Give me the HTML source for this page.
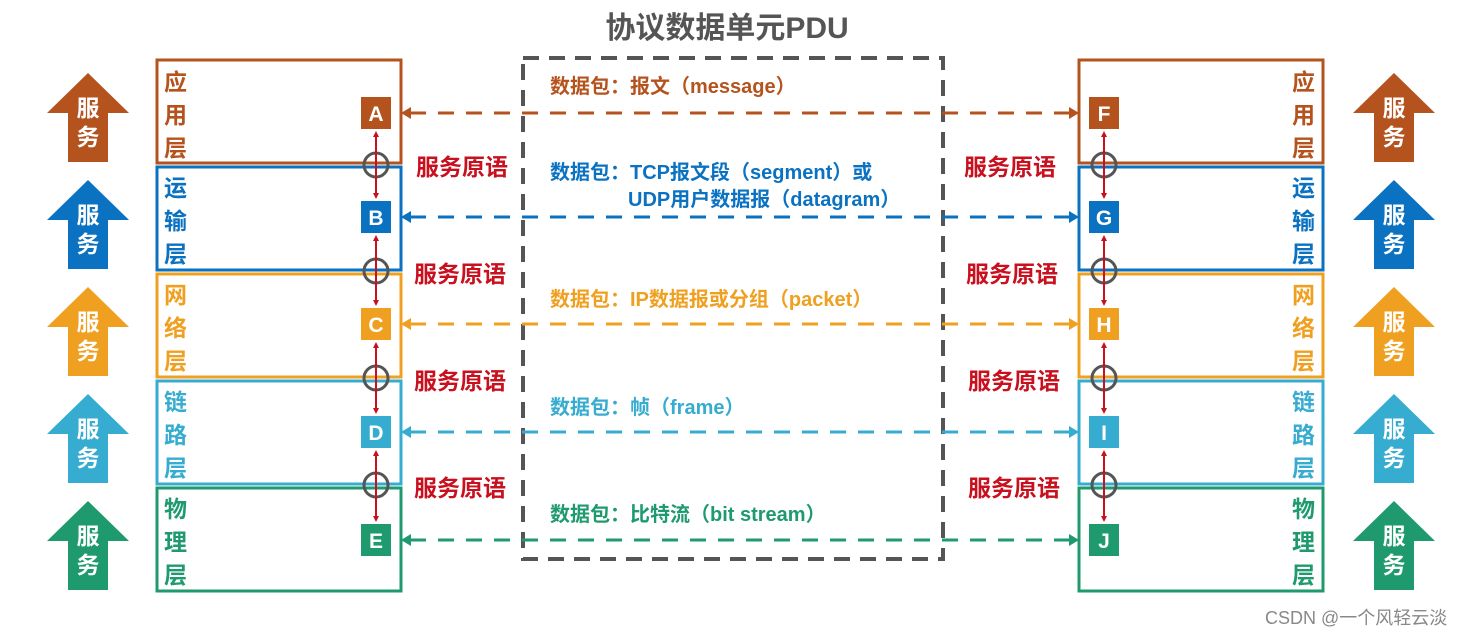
<!DOCTYPE html>
<html><head><meta charset="utf-8"><style>
body{margin:0;background:#fff;}
svg{display:block;font-family:"Liberation Sans","Noto Sans CJK SC",sans-serif;font-weight:bold;}
</style></head><body>
<svg width="1472" height="636" viewBox="0 0 1472 636" xmlns="http://www.w3.org/2000/svg">
<defs>
<marker id="mr" markerWidth="6" markerHeight="6" refX="3" refY="3" orient="auto-start-reverse" markerUnits="userSpaceOnUse"><path d="M0,0 L6,3 L0,6 z" fill="#c8101e"/></marker>
</defs>
<text x="727" y="38" text-anchor="middle" font-size="30" fill="#555">协议数据单元PDU</text>
<rect x="523" y="58" width="420" height="501" fill="none" stroke="#555" stroke-width="4" stroke-dasharray="16,10"/>

<g font-size="23">
<rect x="157" y="60" width="244" height="103" fill="none" stroke="#b5531e" stroke-width="3"/>
<rect x="1079" y="60" width="244" height="103" fill="none" stroke="#b5531e" stroke-width="3"/>
<text x="164" y="90" fill="#b5531e">应</text><text x="164" y="123" fill="#b5531e">用</text><text x="164" y="156" fill="#b5531e">层</text>
<text x="1292" y="90" fill="#b5531e">应</text><text x="1292" y="123" fill="#b5531e">用</text><text x="1292" y="156" fill="#b5531e">层</text>
<rect x="361" y="97" width="30" height="32" fill="#b5531e"/><text x="376" y="121" text-anchor="middle" font-size="21" fill="#fff">A</text>
<rect x="1089" y="97" width="30" height="32" fill="#b5531e"/><text x="1104" y="121" text-anchor="middle" font-size="21" fill="#fff">F</text>
<line x1="410" y1="113" x2="1070" y2="113" stroke="#b5531e" stroke-width="3" stroke-dasharray="16,12"/>
<path d="M401,113 l10,-6 v12z M1079,113 l-10,-6 v12z" fill="#b5531e"/>
<path d="M88,73 L129,113 H108 V162 H68 V113 H47 Z" fill="#b5531e"/>
<path d="M1394,73 L1435,113 H1414 V162 H1374 V113 H1353 Z" fill="#b5531e"/>
<text x="88" y="116" text-anchor="middle" fill="#fff">服</text><text x="88" y="145" text-anchor="middle" fill="#fff">务</text>
<text x="1394" y="116" text-anchor="middle" fill="#fff">服</text><text x="1394" y="145" text-anchor="middle" fill="#fff">务</text>
<text x="550" y="93" font-size="20" fill="#b5531e">数据包：报文（message）</text>

<rect x="157" y="167" width="244" height="103" fill="none" stroke="#0a72c1" stroke-width="3"/>
<rect x="1079" y="167" width="244" height="103" fill="none" stroke="#0a72c1" stroke-width="3"/>
<text x="164" y="196" fill="#0a72c1">运</text><text x="164" y="229" fill="#0a72c1">输</text><text x="164" y="262" fill="#0a72c1">层</text>
<text x="1292" y="196" fill="#0a72c1">运</text><text x="1292" y="229" fill="#0a72c1">输</text><text x="1292" y="262" fill="#0a72c1">层</text>
<rect x="361" y="201" width="30" height="32" fill="#0a72c1"/><text x="376" y="225" text-anchor="middle" font-size="21" fill="#fff">B</text>
<rect x="1089" y="201" width="30" height="32" fill="#0a72c1"/><text x="1104" y="225" text-anchor="middle" font-size="21" fill="#fff">G</text>
<line x1="410" y1="217" x2="1070" y2="217" stroke="#0a72c1" stroke-width="3" stroke-dasharray="16,12"/>
<path d="M401,217 l10,-6 v12z M1079,217 l-10,-6 v12z" fill="#0a72c1"/>
<path d="M88,180 L129,220 H108 V269 H68 V220 H47 Z" fill="#0a72c1"/>
<path d="M1394,180 L1435,220 H1414 V269 H1374 V220 H1353 Z" fill="#0a72c1"/>
<text x="88" y="223" text-anchor="middle" fill="#fff">服</text><text x="88" y="252" text-anchor="middle" fill="#fff">务</text>
<text x="1394" y="223" text-anchor="middle" fill="#fff">服</text><text x="1394" y="252" text-anchor="middle" fill="#fff">务</text>
<text x="550" y="179" font-size="20" fill="#0a72c1">数据包：TCP报文段（segment）或</text>
<text x="628" y="206" font-size="20" fill="#0a72c1">UDP用户数据报（datagram）</text>

<rect x="157" y="274" width="244" height="103" fill="none" stroke="#f0a020" stroke-width="3"/>
<rect x="1079" y="274" width="244" height="103" fill="none" stroke="#f0a020" stroke-width="3"/>
<text x="164" y="303" fill="#f0a020">网</text><text x="164" y="336" fill="#f0a020">络</text><text x="164" y="369" fill="#f0a020">层</text>
<text x="1292" y="303" fill="#f0a020">网</text><text x="1292" y="336" fill="#f0a020">络</text><text x="1292" y="369" fill="#f0a020">层</text>
<rect x="361" y="308" width="30" height="32" fill="#f0a020"/><text x="376" y="332" text-anchor="middle" font-size="21" fill="#fff">C</text>
<rect x="1089" y="308" width="30" height="32" fill="#f0a020"/><text x="1104" y="332" text-anchor="middle" font-size="21" fill="#fff">H</text>
<line x1="410" y1="324" x2="1070" y2="324" stroke="#f0a020" stroke-width="3" stroke-dasharray="16,12"/>
<path d="M401,324 l10,-6 v12z M1079,324 l-10,-6 v12z" fill="#f0a020"/>
<path d="M88,287 L129,327 H108 V376 H68 V327 H47 Z" fill="#f0a020"/>
<path d="M1394,287 L1435,327 H1414 V376 H1374 V327 H1353 Z" fill="#f0a020"/>
<text x="88" y="330" text-anchor="middle" fill="#fff">服</text><text x="88" y="359" text-anchor="middle" fill="#fff">务</text>
<text x="1394" y="330" text-anchor="middle" fill="#fff">服</text><text x="1394" y="359" text-anchor="middle" fill="#fff">务</text>
<text x="550" y="306" font-size="20" fill="#f0a020">数据包：IP数据报或分组（packet）</text>

<rect x="157" y="381" width="244" height="103" fill="none" stroke="#36acd0" stroke-width="3"/>
<rect x="1079" y="381" width="244" height="103" fill="none" stroke="#36acd0" stroke-width="3"/>
<text x="164" y="410" fill="#36acd0">链</text><text x="164" y="443" fill="#36acd0">路</text><text x="164" y="476" fill="#36acd0">层</text>
<text x="1292" y="410" fill="#36acd0">链</text><text x="1292" y="443" fill="#36acd0">路</text><text x="1292" y="476" fill="#36acd0">层</text>
<rect x="361" y="416" width="30" height="32" fill="#36acd0"/><text x="376" y="440" text-anchor="middle" font-size="21" fill="#fff">D</text>
<rect x="1089" y="416" width="30" height="32" fill="#36acd0"/><text x="1104" y="440" text-anchor="middle" font-size="21" fill="#fff">I</text>
<line x1="410" y1="432" x2="1070" y2="432" stroke="#36acd0" stroke-width="3" stroke-dasharray="16,12"/>
<path d="M401,432 l10,-6 v12z M1079,432 l-10,-6 v12z" fill="#36acd0"/>
<path d="M88,394 L129,434 H108 V483 H68 V434 H47 Z" fill="#36acd0"/>
<path d="M1394,394 L1435,434 H1414 V483 H1374 V434 H1353 Z" fill="#36acd0"/>
<text x="88" y="437" text-anchor="middle" fill="#fff">服</text><text x="88" y="466" text-anchor="middle" fill="#fff">务</text>
<text x="1394" y="437" text-anchor="middle" fill="#fff">服</text><text x="1394" y="466" text-anchor="middle" fill="#fff">务</text>
<text x="550" y="414" font-size="20" fill="#36acd0">数据包：帧（frame）</text>

<rect x="157" y="488" width="244" height="103" fill="none" stroke="#1e9a6e" stroke-width="3"/>
<rect x="1079" y="488" width="244" height="103" fill="none" stroke="#1e9a6e" stroke-width="3"/>
<text x="164" y="517" fill="#1e9a6e">物</text><text x="164" y="550" fill="#1e9a6e">理</text><text x="164" y="583" fill="#1e9a6e">层</text>
<text x="1292" y="517" fill="#1e9a6e">物</text><text x="1292" y="550" fill="#1e9a6e">理</text><text x="1292" y="583" fill="#1e9a6e">层</text>
<rect x="361" y="524" width="30" height="32" fill="#1e9a6e"/><text x="376" y="548" text-anchor="middle" font-size="21" fill="#fff">E</text>
<rect x="1089" y="524" width="30" height="32" fill="#1e9a6e"/><text x="1104" y="548" text-anchor="middle" font-size="21" fill="#fff">J</text>
<line x1="410" y1="540" x2="1070" y2="540" stroke="#1e9a6e" stroke-width="3" stroke-dasharray="16,12"/>
<path d="M401,540 l10,-6 v12z M1079,540 l-10,-6 v12z" fill="#1e9a6e"/>
<path d="M88,501 L129,541 H108 V590 H68 V541 H47 Z" fill="#1e9a6e"/>
<path d="M1394,501 L1435,541 H1414 V590 H1374 V541 H1353 Z" fill="#1e9a6e"/>
<text x="88" y="544" text-anchor="middle" fill="#fff">服</text><text x="88" y="573" text-anchor="middle" fill="#fff">务</text>
<text x="1394" y="544" text-anchor="middle" fill="#fff">服</text><text x="1394" y="573" text-anchor="middle" fill="#fff">务</text>
<text x="550" y="521" font-size="20" fill="#1e9a6e">数据包：比特流（bit stream）</text>
</g>

<g fill="none" stroke="#555" stroke-width="3">
<circle cx="376" cy="165" r="12"/><circle cx="376" cy="271" r="12"/><circle cx="376" cy="378" r="12"/><circle cx="376" cy="485" r="12"/>
<circle cx="1104" cy="165" r="12"/><circle cx="1104" cy="271" r="12"/><circle cx="1104" cy="378" r="12"/><circle cx="1104" cy="485" r="12"/>
</g>
<g stroke="#c8101e" stroke-width="2" marker-start="url(#mr)" marker-end="url(#mr)">
<line x1="376" y1="134" x2="376" y2="196"/><line x1="376" y1="238" x2="376" y2="303"/><line x1="376" y1="345" x2="376" y2="411"/><line x1="376" y1="453" x2="376" y2="519"/>
<line x1="1104" y1="134" x2="1104" y2="196"/><line x1="1104" y1="238" x2="1104" y2="303"/><line x1="1104" y1="345" x2="1104" y2="411"/><line x1="1104" y1="453" x2="1104" y2="519"/>
</g>
<g font-size="23" fill="#c8101e">
<text x="416" y="175">服务原语</text><text x="414" y="282">服务原语</text><text x="414" y="389">服务原语</text><text x="414" y="496">服务原语</text>
<text x="964" y="175">服务原语</text><text x="966" y="282">服务原语</text><text x="968" y="389">服务原语</text><text x="968" y="496">服务原语</text>
</g>
<text x="1265" y="624" font-size="18" font-weight="normal" fill="#888">CSDN @一个风轻云淡</text>
</svg>
</body></html>
